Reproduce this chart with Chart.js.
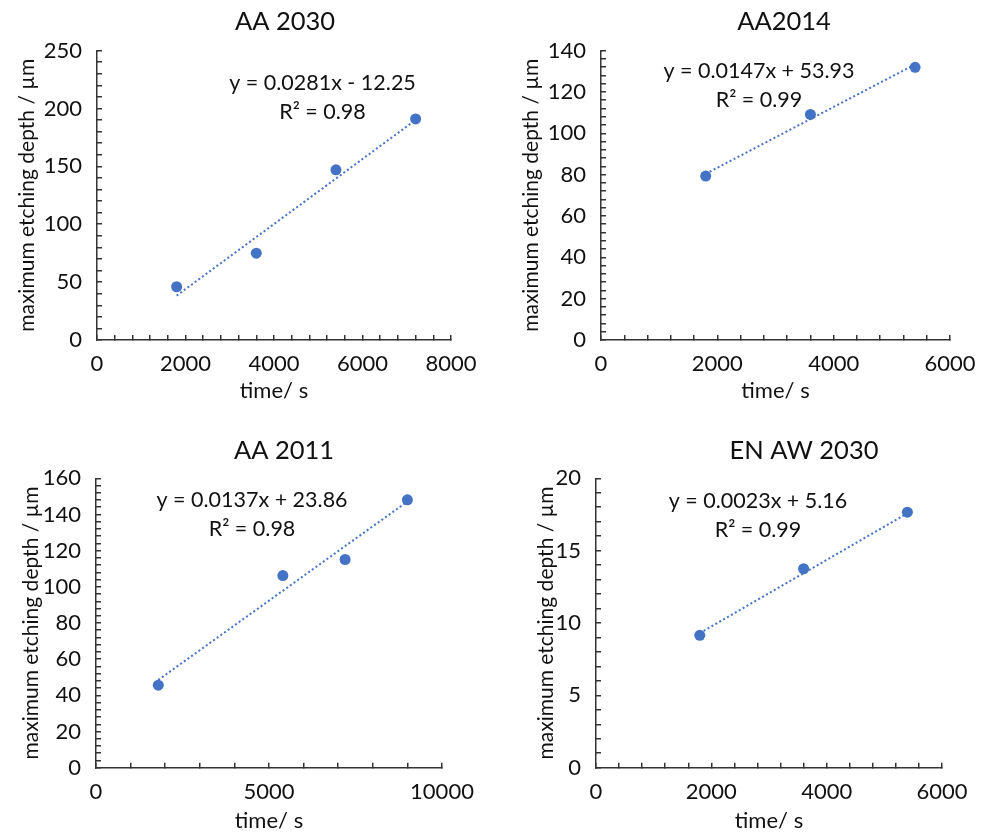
<!DOCTYPE html>
<html><head><meta charset="utf-8">
<script src="https://cdn.jsdelivr.net/npm/chart.js@4.4.1/dist/chart.umd.min.js"></script>
<style>
html,body{margin:0;padding:0;background:#fff;overflow:hidden;width:987px;height:832px;position:relative;}
canvas{position:absolute;}
</style></head><body>
<canvas id="c0"></canvas>
<canvas id="c1"></canvas>
<canvas id="c2"></canvas>
<canvas id="c3"></canvas>
<script>
// ---------- data ----------
const titles = ['AA 2030', 'AA2014', 'AA 2011', 'EN AW 2030'];
const timeAA2030 = [1800, 3600, 5400, 7200];
const depthAA2030 = [46, 75, 147, 191];
const timeAA2014 = [1800, 3600, 5400];
const depthAA2014 = [79.3, 109.1, 131.9];
const timeAA2011 = [1800, 5400, 7200, 9000];
const depthAA2011 = [45.6, 106.2, 115.1, 148.1];
const timeENAW2030 = [1800, 3600, 5400];
const depthENAW2030 = [9.15, 13.75, 17.66];
const slopes = [0.0281, 0.0147, 0.0137, 0.0023];
const intercepts = [-12.25, 53.93, 23.86, 5.16];
const r2Values = [0.98, 0.99, 0.98, 0.99];
const xMaxes = [8000, 6000, 10000, 6000];
const xLabelSteps = [2000, 2000, 5000, 2000];
const xMinorSteps = [400, 400, 1000, 400];
const yMaxes = [250, 140, 160, 20];
const yLabelSteps = [50, 20, 20, 5];
const yMinorSteps = [10, 4, 4, 1];
const xAxisTitle = 'time/ s';
const yAxisTitle = 'maximum etching depth / µm';

const times = [timeAA2030, timeAA2014, timeAA2011, timeENAW2030];
const depths = [depthAA2030, depthAA2014, depthAA2011, depthENAW2030];

// ---------- layout / style ----------
const layouts = [
  {left:0,   top:0,   width:570, height:416, yw:97,  pr:119, xh:76,   tTop:6.0,  tBot:14.0, yTitlePad:15,   xTitlePad:12, eq:{x:5096, y:222}},
  {left:494, top:0,   width:580, height:416, yw:107, pr:124, xh:76,   tTop:6.0,  tBot:14.0, yTitlePad:24.4, xTitlePad:12, eq:{x:2716, y:129.9}},
  {left:0,   top:416, width:568, height:430, yw:96,  pr:126, xh:78.3, tTop:19.0, tBot:12.7, yTitlePad:18.4, xTitlePad:12, eq:{x:4509, y:147.7}},
  {left:494, top:416, width:620, height:430, yw:102, pr:172, xh:78.3, tTop:19.0, tBot:12.7, yTitlePad:39.4, xTitlePad:12, eq:{x:2809, y:18.46}}
];
const BLUE = '#4472C4';
const INK = '#111111';
const AXIS = '#333333';
const FONT = 'Lato';

Chart.defaults.font.family = FONT;
Chart.defaults.color = INK;

function isMultiple(v, step) {
  const r = v / step;
  return Math.abs(r - Math.round(r)) < 1e-6;
}
function fmtEq(i) {
  const b = intercepts[i];
  const sign = b < 0 ? '-' : '+';
  return 'y = ' + slopes[i].toFixed(4) + 'x ' + sign + ' ' + Math.abs(b).toFixed(2);
}

const equationPlugin = {
  id: 'equation',
  afterDatasetsDraw(chart, args, opts) {
    const {ctx, scales} = chart;
    const cx = scales.x.getPixelForValue(opts.x);
    const cy = scales.y.getPixelForValue(opts.y);
    ctx.save();
    ctx.font = '21.5px ' + FONT;
    ctx.fillStyle = INK;
    ctx.textAlign = 'center';
    ctx.textBaseline = 'middle';
    ctx.fillText(opts.line1, cx, cy);
    ctx.fillText(opts.line2, cx, cy + 29);
    ctx.restore();
  }
};

for (let i = 0; i < 4; i++) {
  const L = layouts[i];
  const cv = document.getElementById('c' + i);
  cv.width = L.width; cv.height = L.height;
  cv.style.left = L.left + 'px'; cv.style.top = L.top + 'px';
  cv.style.width = L.width + 'px'; cv.style.height = L.height + 'px';

  const pts = times[i].map((t, k) => ({x: t, y: depths[i][k]}));
  const x0 = times[i][0], x1 = times[i][times[i].length - 1];
  const trend = [x0, x1].map(t => ({x: t, y: slopes[i] * t + intercepts[i]}));

  new Chart(cv, {
    type: 'scatter',
    data: {
      datasets: [
        {type: 'line', data: trend, borderColor: BLUE, borderWidth: 2, borderDash: [2, 2.5],
         pointRadius: 0, fill: false, order: 2},
        {data: pts, backgroundColor: BLUE, borderColor: BLUE, borderWidth: 0, pointRadius: 5.5,
         order: 1}
      ]
    },
    plugins: [equationPlugin],
    options: {
      responsive: false,
      animation: false,
      devicePixelRatio: 1,
      events: [],
      layout: {padding: 0},
      plugins: {
        legend: {display: false},
        tooltip: {enabled: false},
        title: {display: true, text: titles[i], color: INK,
                font: {size: 25.5, weight: 'normal', family: FONT, lineHeight: 1.2},
                padding: {top: L.tTop, bottom: L.tBot}},
        equation: {x: L.eq.x, y: L.eq.y, line1: fmtEq(i), line2: 'R² = ' + r2Values[i].toFixed(2)}
      },
      scales: {
        x: {
          type: 'linear', position: 'bottom', min: 0, max: xMaxes[i],
          afterFit: s => { s.height = L.xh; },
          grid: {display: true, drawOnChartArea: false, drawTicks: true, tickLength: -5,
                 color: AXIS, lineWidth: 1.5},
          border: {display: true, color: AXIS, width: 1.5},
          ticks: {stepSize: xMinorSteps[i], autoSkip: false, maxRotation: 0, minRotation: 0,
                  maxTicksLimit: 1000, padding: 16, color: INK, font: {size: 22, family: FONT},
                  callback: v => isMultiple(v, xLabelSteps[i]) ? String(v) : ''},
          title: {display: true, text: xAxisTitle, color: INK, font: {size: 22, family: FONT, lineHeight: 1.2},
                  padding: {top: 0, bottom: L.xTitlePad}}
        },
        y: {
          type: 'linear', position: 'left', min: 0, max: yMaxes[i],
          afterFit: s => { s.width = L.yw; },
          grid: {display: true, drawOnChartArea: false, drawTicks: true, tickLength: -5,
                 color: AXIS, lineWidth: 1.5},
          border: {display: true, color: AXIS, width: 1.5},
          ticks: {stepSize: yMinorSteps[i], autoSkip: false, maxTicksLimit: 1000, padding: 20,
                  color: INK, font: {size: 22, family: FONT},
                  callback: v => isMultiple(v, yLabelSteps[i]) ? String(v) : ''},
          title: {display: true, text: yAxisTitle, color: INK, font: {size: 21, family: FONT, lineHeight: 1.2},
                  padding: {top: L.yTitlePad, bottom: 0}}
        },
        spacer: {
          type: 'linear', position: 'right', display: true,
          afterFit: s => { s.width = L.pr; },
          grid: {display: false, drawTicks: false},
          border: {display: false},
          ticks: {display: false},
          title: {display: false}
        }
      }
    }
  });
}
</script>
</body></html>
